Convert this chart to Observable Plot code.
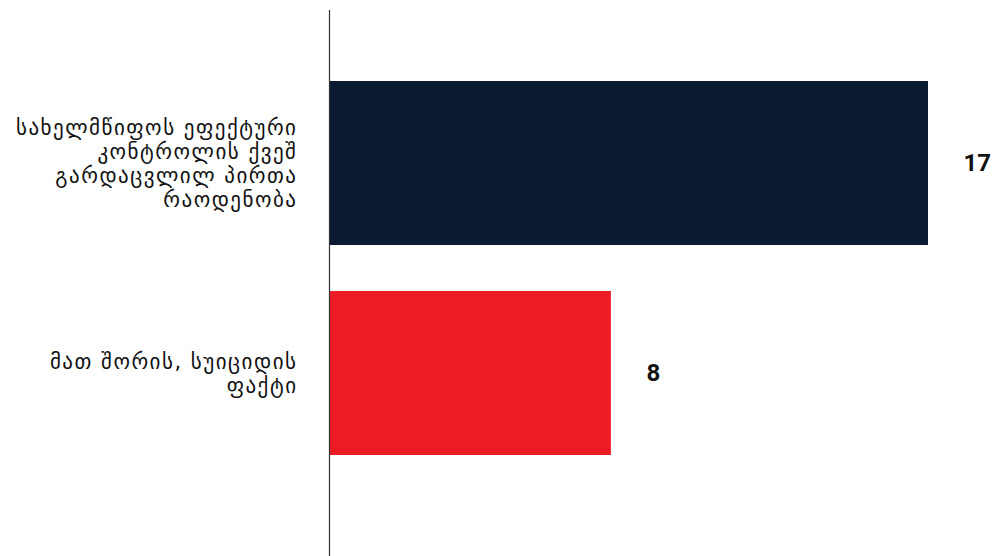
<!DOCTYPE html>
<html>
<head>
<meta charset="utf-8">
<script src="https://cdn.jsdelivr.net/npm/d3@7"></script>
<script src="https://cdn.jsdelivr.net/npm/@observablehq/plot@0.6"></script>
<style>
  html, body { margin: 0; padding: 0; background: #fff; }
  #chart svg { display: block; }
</style>
</head>
<body>
<div id="chart"></div>
<script>
const categories = [
  "სახელმწიფოს ეფექტური\nკონტროლის ქვეშ\nგარდაცვლილ პირთა\nრაოდენობა",
  "მათ შორის, სუიციდის\nფაქტი"
];
const values = [17, 8];
const colors = ["#0b1931", "#ed1c24"];

const data = categories.map((c, i) => ({category: c, value: values[i], color: colors[i]}));

const chart = Plot.plot({
  width: 998,
  height: 556,
  marginLeft: 329,
  marginRight: 70,
  marginTop: 10,
  marginBottom: 0,
  style: {fontFamily: "DejaVu Sans, sans-serif", background: "#fff"},
  x: {domain: [0, 17], axis: null},
  y: {domain: categories, paddingInner: 0.22, paddingOuter: 0.405, align: 0.41, label: null},
  marks: [
    Plot.barX(data, {x: "value", y: "category", fill: "color"}),
    Plot.axisY({tickSize: 0, tickPadding: 32, fontSize: 21, lineHeight: 1.15, fill: "#111", label: null}),
    Plot.ruleX([0], {stroke: "#333", strokeWidth: 1.2}),
    Plot.text(data, {x: "value", y: "category", text: d => String(d.value), dx: 35, textAnchor: "start",
      fontSize: 24, fontWeight: "bold", fill: "#111", fontFamily: "Roboto, sans-serif"})
  ]
});
chart.querySelectorAll("g[aria-label='y-axis tick label'] text").forEach(t => t.setAttribute("letter-spacing", "1.5"));
document.getElementById("chart").appendChild(chart);
</script>
</body>
</html>
